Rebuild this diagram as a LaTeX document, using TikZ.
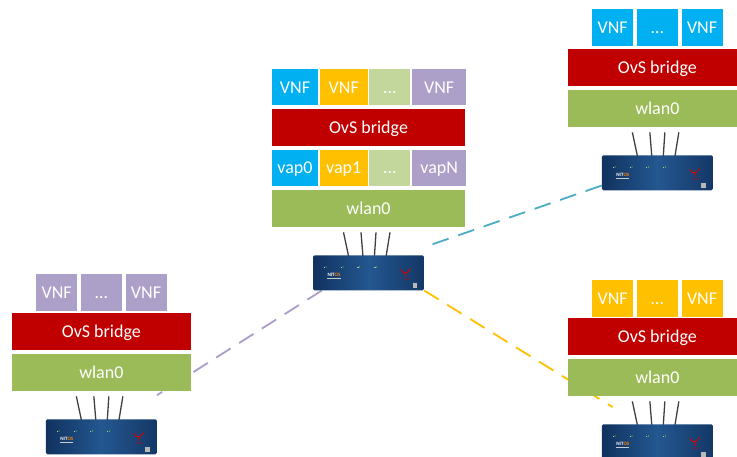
\documentclass[tikz,border=0pt]{standalone}
\usepackage{fontspec}
\setmainfont{Carlito}
\usetikzlibrary{positioning,backgrounds}

\definecolor{vnfblue}{HTML}{00B0F0}
\definecolor{vnfyellow}{HTML}{FFC000}
\definecolor{vnfgreen}{HTML}{C3D69B}
\definecolor{vnfpurple}{HTML}{ADA0C8}
\definecolor{ovsred}{HTML}{C00000}
\definecolor{wlangreen}{HTML}{9BBB59}
\definecolor{linkteal}{HTML}{4BACC6}
\definecolor{linkpurple}{HTML}{AC9CC8}
\definecolor{linkyellow}{HTML}{FFC000}
\definecolor{casenavy}{HTML}{10325F}
\definecolor{caseblue}{HTML}{245790}

\tikzset{
  antenna/.style={draw=black!75, line width=1.3pt},
  routerbox/.style={
    rectangle,
    inner sep=0pt,
    minimum width=111pt,
    minimum height=35pt,
    rounded corners=1.5pt,
    left color=casenavy,
    right color=casenavy!85!caseblue,
    middle color=caseblue
  },
  brand/.style={inner sep=0pt, text=white, font=\fontsize{5}{5}\selectfont\bfseries},
  maker/.style={inner sep=0pt, text=red!80!black, font=\fontsize{2.5}{2.5}\selectfont},
  logo/.style={draw=red!85!black, line width=0.9pt, line cap=round},
  pics/router/.style={code={
    % antennas, feet hidden behind the case
    \foreach \tipx/\footx in {-25/-18.5, -7.5/-5, 7.5/5.5, 21.5/16.5}
      \draw[antenna] (\footx,10) -- (\tipx,40.5);
    % case
    \node[routerbox] (-box) at (0,0) {};
    % status leds
    \foreach \x in {-43,-26,-9.5,7.5} {
      \fill[white!75!black] (\x-1.8,5.5) rectangle ++(1.4,0.7);
      \fill[green!75!yellow] (\x+0.6,5.85) circle (0.6pt);
    }
    \node[brand] (-brand) at (-34.5,-2.5) {NIT\textcolor{orange}{OS}};
    \draw[white!80!black, line width=0.3pt]
      ([yshift=-0.8pt]-brand.south west) -- ([yshift=-0.8pt]-brand.south east);
    % bird logo
    \draw[logo] (32.5,3.5) .. controls (34,0.5) and (35.5,0) .. (37,0)
      .. controls (38.5,0) and (40.5,1) .. (42,4.5);
    \draw[logo] (37,0) -- (37.6,-4);
    \node[maker] (-maker) at (38.5,-6.5) {ICARUS};
    \fill[gray!55] (44,-15.5) rectangle ++(4.5,5);
  }}
}

\begin{document}
\begin{tikzpicture}[
  x=1pt, y=1pt,
  layer/.style={
    rectangle,
    inner sep=0pt,
    minimum height=36.6pt,
    text=white,
    text height=13pt,
    text depth=1pt,
    font=\fontsize{18}{20}\selectfont
  },
  wlanbox/.style={layer, fill=wlangreen, minimum width=#1},
  ovsbox/.style={layer, fill=ovsred, minimum width=#1},
  slot/.style={layer, minimum width=41pt},
  link/.style={line width=1.8pt, dash pattern=on 17pt off 10pt}
]
\useasboundingbox (0,0) rectangle (737,457);
\clip (0,0) rectangle (737,457);

% central access point with virtual APs
\node[wlanbox=193pt] (c-wlan) at (368.5,248.65) {wlan0};
\node[slot, fill=vnfblue, minimum width=46pt,
  above right=3.4pt and 0pt of c-wlan.north west] (c-vap0) {vap0};
\node[slot, fill=vnfyellow, minimum width=48pt, right=1.33pt of c-vap0] (c-vap1) {vap1};
\node[slot, fill=vnfgreen, right=1.33pt of c-vap1] (c-vapdots) {\dots};
\node[slot, fill=vnfpurple, minimum width=54pt, right=1.33pt of c-vapdots] (c-vapN) {vapN};
\node[ovsbox=193pt, above right=3.4pt and 0pt of c-vap0.north west] (c-ovs) {OvS bridge};
\node[slot, fill=vnfblue, minimum width=46pt,
  above right=3.4pt and 0pt of c-ovs.north west] (c-vnf0) {VNF};
\node[slot, fill=vnfyellow, minimum width=48pt, right=1.33pt of c-vnf0] (c-vnf1) {VNF};
\node[slot, fill=vnfgreen, right=1.33pt of c-vnf1] (c-vnfdots) {\dots};
\node[slot, fill=vnfpurple, minimum width=54pt, right=1.33pt of c-vnfdots] (c-vnfN) {VNF};
\pic (c) at ([yshift=-46pt]c-wlan.south) {router};

% top right client
\node[wlanbox=178.7pt] (tr-wlan) at (657.35,348.65) {wlan0};
\node[ovsbox=178.7pt, above=4pt of tr-wlan] (tr-ovs) {OvS bridge};
\node[slot, fill=vnfblue, above=2.6pt of tr-ovs] (tr-dots) {\dots};
\node[slot, fill=vnfblue, left=3.3pt of tr-dots] (tr-vnf0) {VNF};
\node[slot, fill=vnfblue, right=3.3pt of tr-dots] (tr-vnf1) {VNF};
\pic (tr) at ([yshift=-46pt]tr-wlan.south) {router};

% bottom left client
\node[wlanbox=178.7pt] (bl-wlan) at (101.35,84.65) {wlan0};
\node[ovsbox=178.7pt, above=4pt of bl-wlan] (bl-ovs) {OvS bridge};
\node[slot, fill=vnfpurple, above=1.6pt of bl-ovs] (bl-dots) {\dots};
\node[slot, fill=vnfpurple, left=3.3pt of bl-dots] (bl-vnf0) {VNF};
\node[slot, fill=vnfpurple, right=3.3pt of bl-dots] (bl-vnf1) {VNF};
\pic (bl) at ([yshift=-46pt]bl-wlan.south) {router};

% bottom right client
\node[wlanbox=178.7pt] (br-wlan) at (657.35,79.65) {wlan0};
\node[ovsbox=178.7pt, above=4pt of br-wlan] (br-ovs) {OvS bridge};
\node[slot, fill=vnfyellow, above=0.6pt of br-ovs] (br-dots) {\dots};
\node[slot, fill=vnfyellow, left=3.3pt of br-dots] (br-vnf0) {VNF};
\node[slot, fill=vnfyellow, right=3.3pt of br-dots] (br-vnf1) {VNF};
\pic (br) at ([yshift=-46pt]br-wlan.south) {router};

% wireless links
\begin{scope}[on background layer]
  \draw[link, linkteal] ([yshift=5pt]tr-box.south west) -- ([yshift=8pt]c-box.north east);
  \draw[link, linkpurple] ([xshift=9pt]c-box.south west) -- ([yshift=24pt]bl-box.north east);
  \draw[link, linkyellow] (c-box.south east) -- ([shift={(11pt,17pt)}]br-box.north west);
\end{scope}

\end{tikzpicture}
\end{document}
